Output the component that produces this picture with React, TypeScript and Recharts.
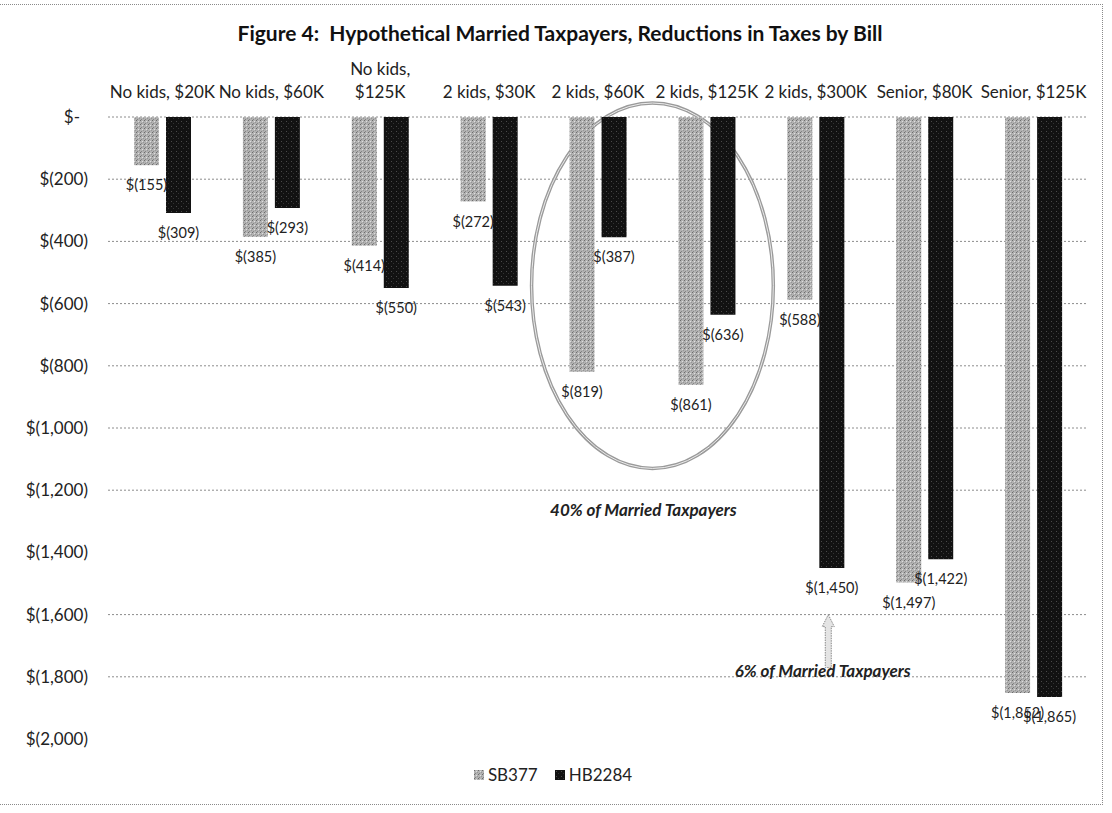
import React from "react";
import {
  BarChart,
  Bar,
  XAxis,
  YAxis,
  CartesianGrid,
  LabelList,
  Legend,
  ReferenceArea,
  ReferenceDot,
} from "recharts";

const categories = [
  "No kids, $20K",
  "No kids, $60K",
  "No kids, $125K",
  "2 kids, $30K",
  "2 kids, $60K",
  "2 kids, $125K",
  "2 kids, $300K",
  "Senior, $80K",
  "Senior, $125K",
];
const sb377 = [-155, -385, -414, -272, -819, -861, -588, -1497, -1852];
const hb2284 = [-309, -293, -550, -543, -387, -636, -1450, -1422, -1865];
const yTicks = [0, -200, -400, -600, -800, -1000, -1200, -1400, -1600, -1800, -2000];
// the scan shows no dotted line at $(1,400) or $(2,000)
const gridValues = [0, -200, -400, -600, -800, -1000, -1200, -1600, -1800];

const data = categories.map((name, i) => ({ name, SB377: sb377[i], HB2284: hb2284[i] }));

const FONT = "Lato, 'Noto Sans', sans-serif";

const money = (v: number) =>
  v === 0 ? "$-" : `$(${Math.abs(v).toLocaleString("en-US")})`;

function CategoryTick({ x, y, payload }: any) {
  const text: string = payload.value;
  const lines = text.length > 13 ? text.replace(", ", ",\n").split("\n") : [text];
  return (
    <g>
      {lines.map((ln, i) => (
        <text
          key={i}
          x={x}
          y={y - 19 - (lines.length - 1 - i) * 23}
          textAnchor="middle"
          fontSize={17}
          fontFamily={FONT}
          fill="#222"
        >
          {ln}
        </text>
      ))}
    </g>
  );
}

function ValueTick({ x, y, payload }: any) {
  const v = payload.value as number;
  return (
    <text
      x={v === 0 ? x - 8 : x}
      y={y}
      dy="0.35em"
      textAnchor="end"
      fontSize={17}
      fontFamily={FONT}
      fill="#222"
    >
      {money(v)}
    </text>
  );
}

function BarValue({ x, y, width, height, value }: any) {
  const bottom = Math.max(Number(y), Number(y) + Number(height));
  return (
    <text
      x={Number(x) + Number(width) / 2}
      y={bottom + 20}
      dy="0.35em"
      textAnchor="middle"
      fontSize={14.5}
      fontFamily={FONT}
      fill="#222"
    >
      {money(Number(value))}
    </text>
  );
}

function Circled({ x, y, width, height }: any) {
  const cx = x + width / 2;
  const cy = y + height / 2;
  return (
    <g>
      <ellipse cx={cx} cy={cy} rx={width / 2 + 12} ry={height / 2} fill="none" stroke="#9a9a9a" strokeWidth={3.5} />
      <ellipse cx={cx} cy={cy} rx={width / 2 + 12} ry={height / 2} fill="none" stroke="#ececec" strokeWidth={1} />
      <text
        x={cx - 9}
        y={y + height + 42}
        dy="0.35em"
        textAnchor="middle"
        fontSize={17}
        fontStyle="italic"
        fontWeight="bold"
        fontFamily={FONT}
        fill="#222"
      >
        40% of Married Taxpayers
      </text>
    </g>
  );
}

function Pointer({ cx, cy }: any) {
  const ax = cx + 12.5;
  const path = `M${ax},${cy} L${ax + 6},${cy + 12} L${ax + 3},${cy + 12} L${ax + 3},${cy + 53} L${ax - 3},${cy + 53} L${ax - 3},${cy + 12} L${ax - 6},${cy + 12} Z`;
  return (
    <g>
      <path d={path} fill="#e4e4e4" stroke="#8a8a8a" strokeWidth={1} strokeDasharray="1.5 1" />
      <text
        x={cx + 7}
        y={cy + 56}
        dy="0.35em"
        textAnchor="middle"
        fontSize={17}
        fontStyle="italic"
        fontWeight="bold"
        fontFamily={FONT}
        fill="#222"
      >
        6% of Married Taxpayers
      </text>
    </g>
  );
}

function LegendBox() {
  const items = [
    { name: "SB377", fill: "url(#sbPat)" },
    { name: "HB2284", fill: "url(#hbPat)" },
  ];
  return (
    <div style={{ display: "flex", justifyContent: "center", gap: 17, fontFamily: FONT, fontSize: 17, color: "#222" }}>
      {items.map((it) => (
        <span key={it.name} style={{ display: "inline-flex", alignItems: "center", gap: 4 }}>
          <svg width={10} height={10}>
            <rect width={10} height={10} fill={it.fill} />
          </svg>
          {it.name}
        </span>
      ))}
    </div>
  );
}

export default function App() {
  return (
    <div style={{ position: "relative", width: 1112, height: 813, background: "#fff", fontFamily: FONT, overflow: "hidden" }}>
      <style>{`body{margin:0}`}</style>
      <div
        style={{
          position: "absolute",
          top: 4,
          left: -2,
          width: 1105,
          height: 801,
          border: "1px dotted #8a8a8a",
          boxSizing: "border-box",
        }}
      />
      <div
        style={{
          position: "absolute",
          top: 20,
          left: 8,
          width: 1104,
          textAlign: "center",
          fontSize: 21,
          fontWeight: "bold",
          color: "#111",
          zIndex: 1,
        }}
      >
        Figure 4:&nbsp; Hypothetical Married Taxpayers, Reductions in Taxes by Bill
      </div>
      <BarChart
        width={1112}
        height={813}
        data={data}
        margin={{ top: 20, right: 24, bottom: 74, left: 0 }}
        barGap={7}
      >
        <defs>
          <pattern id="sbPat" width="4" height="4" patternUnits="userSpaceOnUse">
            <rect width="4" height="4" fill="#b2b2b2" />
            <rect x="0" y="0" width="1" height="1" fill="#6c6c6c" />
            <rect x="2" y="1" width="1" height="1" fill="#dedede" />
            <rect x="1" y="3" width="1" height="1" fill="#858585" />
            <rect x="3" y="2" width="1" height="1" fill="#959595" />
          </pattern>
          <pattern id="hbPat" width="5" height="5" patternUnits="userSpaceOnUse">
            <rect width="5" height="5" fill="#121212" />
            <rect x="1" y="1" width="1" height="1" fill="#4a4a4a" />
            <rect x="3" y="3" width="1" height="1" fill="#333" />
          </pattern>
        </defs>
        <CartesianGrid
          vertical={false}
          stroke="#8c8c8c"
          strokeDasharray="2 2"
          horizontalValues={gridValues}
        />
        <XAxis
          dataKey="name"
          orientation="top"
          height={97}
          axisLine={false}
          tickLine={false}
          tickSize={0}
          tickMargin={0}
          interval={0}
          tick={<CategoryTick />}
        />
        <YAxis
          type="number"
          domain={[-2000, 0]}
          ticks={yTicks}
          width={108}
          axisLine={false}
          tickLine={false}
          tickSize={0}
          tickMargin={20}
          interval={0}
          tick={<ValueTick />}
        />
        <Legend
          content={<LegendBox />}
          wrapperStyle={{ top: 764, left: 0, width: 1106, height: 0, bottom: "auto" }}
        />
        <Bar dataKey="SB377" name="SB377" fill="url(#sbPat)" barSize={25} isAnimationActive={false}>
          <LabelList dataKey="SB377" content={<BarValue />} />
        </Bar>
        <Bar dataKey="HB2284" name="HB2284" fill="url(#hbPat)" barSize={25} isAnimationActive={false}>
          <LabelList dataKey="HB2284" content={<BarValue />} />
        </Bar>
        <ReferenceArea
          x1="2 kids, $60K"
          x2="2 kids, $125K"
          y1={-1130}
          y2={45}
          ifOverflow="visible"
          shape={(p: any) => <Circled {...p} />}
        />
        <ReferenceDot
          x="2 kids, $300K"
          y={-1600}
          ifOverflow="visible"
          shape={(p: any) => <Pointer {...p} />}
        />
      </BarChart>
    </div>
  );
}
